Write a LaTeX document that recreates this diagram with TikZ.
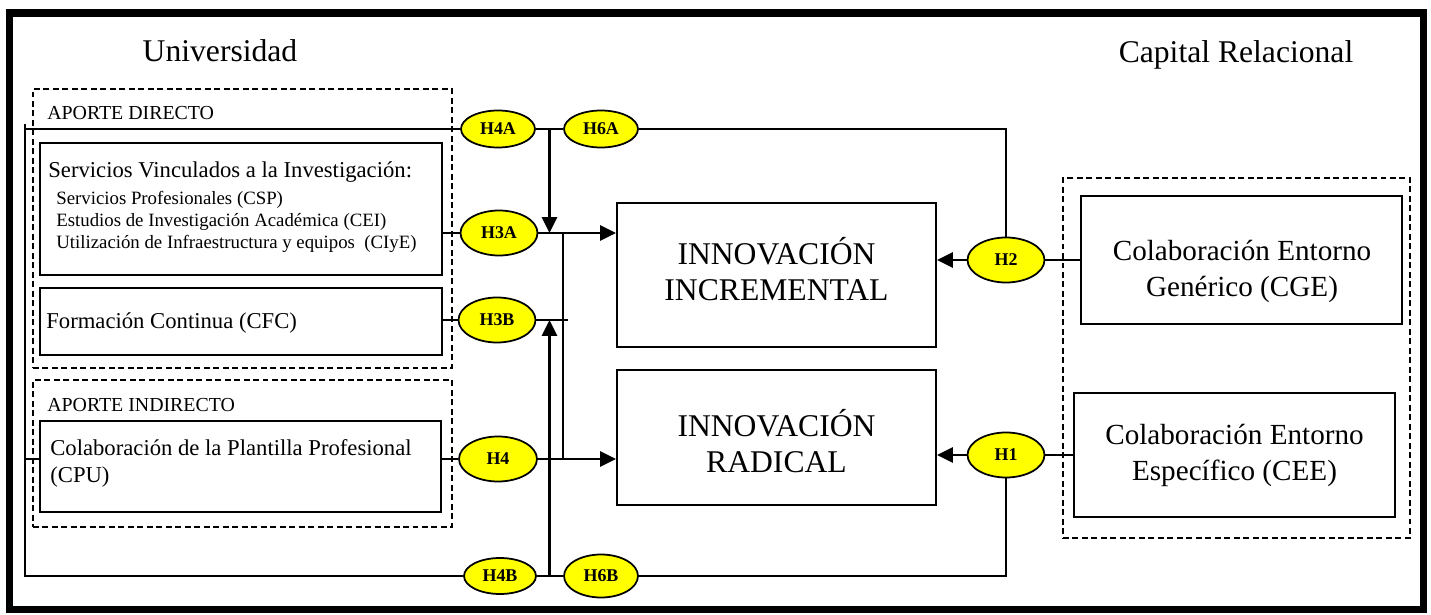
\documentclass[tikz,border=0pt]{standalone}
\usepackage{fontspec}
\setmainfont{Liberation Serif}
\usepackage{xcolor}
\definecolor{HypYellow}{HTML}{FFFF00}
\usetikzlibrary{arrows.meta,positioning,fit,shapes.geometric}

\begin{document}
\begin{tikzpicture}[
  x=0.02cm, y=-0.02cm,
  box/.style={draw, line width=1.2pt, inner sep=0pt},
  group/.style={draw, line width=0.75pt, dash pattern=on 3.4pt off 2pt, inner sep=0pt},
  hyp/.style={ellipse, draw, line width=1pt, fill=HypYellow, inner sep=0pt,
              minimum width=1.54cm, minimum height=0.9cm,
              font=\bfseries\fontsize{10.2}{12}\selectfont},
  hypsmall/.style={hyp, minimum width=1.48cm, minimum height=0.74cm},
  con/.style={line width=1.2pt},
  arr/.style={-{Triangle[length=9pt, width=8.5pt]}, line width=1.5pt},
  lbl/.style={inner sep=0pt, anchor=base west},
  big/.style={font=\fontsize{18}{20.5}\selectfont},
  mid/.style={align=center, font=\fontsize{16.6}{20.5}\selectfont}
]
  \useasboundingbox (0,0) rectangle (1431,615);
  \draw[line width=4pt] (9.5,13) rectangle (1423.5,609.5);

  \node[big, anchor=base] (uni) at (220,62) {Universidad};
  \node[big, anchor=base] (caprel) at (1236,63) {Capital Relacional};

  \node[group, fit={(33,89) (452,368)}] (direct) {};
  \node[group, fit={(33,380) (452,527)}] (indirect) {};
  \node[group, fit={(1063,178) (1410,538)}] (relational) {};
  \node[lbl, font=\fontsize{11.3}{13}\selectfont] (directlbl) at (47,120) {APORTE DIRECTO};
  \node[lbl, font=\fontsize{11.3}{13}\selectfont] (indirectlbl) at (47,411) {APORTE INDIRECTO};

  \node[box, fit={(40,143) (442,275)}] (csp) {};
  \node[lbl, font=\fontsize{12.9}{15.4}\selectfont] (csphead) at (48,177)
    {Servicios Vinculados a la Investigación:};
  \node[inner sep=0pt, anchor=north west, align=left, font=\fontsize{10.7}{12.5}\selectfont]
    (csplist) at (56,191) {Servicios Profesionales (CSP)\\
    Estudios de Investigación Académica (CEI)\\
    Utilización de Infraestructura y equipos~ (CIyE)};
  \node[box, fit={(40,288) (442,355)}] (cfc) {};
  \node[lbl, font=\fontsize{12.9}{15.4}\selectfont] (cfclbl) at (46,328) {Formación Continua (CFC)};
  \node[box, fit={(40,421) (441,512)}] (cpu) {};
  \node[inner sep=0pt, anchor=north west, align=left, font=\fontsize{12.9}{15.4}\selectfont]
    (cpulbl) at (50,439) {Colaboración de la Plantilla Profesional\\(CPU)};

  \node[box, fit={(617,203) (936,347)}] (incr) {};
  \node[big, align=center] (incrlbl) at (776.5,269) {INNOVACIÓN\\INCREMENTAL};
  \node[box, fit={(617,370) (936,505)}] (rad) {};
  \node[big, align=center] (radlbl) at (776.5,441.5) {INNOVACIÓN\\RADICAL};

  \node[box, fit={(1081,196) (1402,324)}] (cge) {};
  \node[mid] (cgelbl) at (1242,271) {Colaboración Entorno\\Genérico (CGE)};
  \node[box, fit={(1074,393) (1395,517)}] (cee) {};
  \node[mid] (ceelbl) at (1234.5,455.5) {Colaboración Entorno\\Específico (CEE)};

  \node[hypsmall] (h4a) at (498,129) {H4A};
  \node[hypsmall] (h6a) at (601,129) {H6A};
  \node[hyp] (h3a) at (499,233) {H3A};
  \node[hyp] (h3b) at (497,320) {H3B};
  \node[hyp, minimum width=1.56cm] (h4) at (498,459) {H4};
  \node[hypsmall, minimum width=1.44cm, minimum height=0.72cm] (h4b) at (500,576) {H4B};
  \node[hypsmall, minimum height=0.86cm] (h6b) at (601,576) {H6B};
  \node[hyp] (h2) at (1006,260) {H2};
  \node[hyp] (h1) at (1006,455) {H1};

  \coordinate (spinetop) at (25,124);
  \coordinate (spinebot) at (25,576);
  \coordinate (drop) at (549.5,129);
  \coordinate (tie) at (563,233);

  \draw[con] (spinetop) -- (spinebot) -- (h4b);
  \draw[con] (spinetop |- h4a) -- (h4a);
  \draw[con] (spinetop |- h4) -- (cpu.west |- h4);
  \draw[con] (h4a) -- (h6a);
  \draw[con] (h6a) -- (h6a -| h2) -- (h2);
  \draw[arr] (drop) -- (drop |- h3a);
  \draw[con] (csp.east |- h3a) -- (h3a);
  \draw[arr] (h3a) -- (incr.west |- h3a);
  \draw[con] (tie) -- (tie |- h4);
  \draw[con] (cfc.east |- h3b) -- (h3b) -- ([xshift=3]tie |- h3b);
  \draw[arr] (drop |- h4b) -- (drop |- h3b);
  \draw[con] (cpu.east |- h4) -- (h4);
  \draw[arr] (h4) -- (rad.west |- h4);
  \draw[con] (h4b) -- (h6b) -- (h6b -| h1) -- (h1);
  \draw[con] (cge.west |- h2) -- (h2);
  \draw[arr] (h2) -- (incr.east |- h2);
  \draw[con] (cee.west |- h1) -- (h1);
  \draw[arr] (h1) -- (rad.east |- h1);
\end{tikzpicture}
\end{document}
